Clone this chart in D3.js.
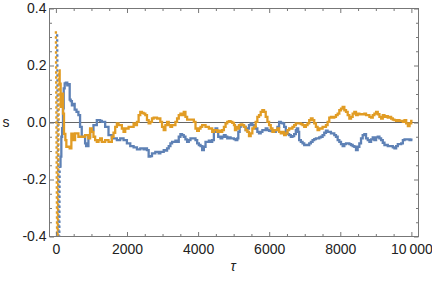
<!DOCTYPE html>
<html>
<head>
<meta charset="utf-8">
<script src="https://cdn.jsdelivr.net/npm/d3@7"></script>
<style>
  body { margin: 0; background: #fff; }
  svg { display: block; font-family: "Liberation Sans", Arial, sans-serif; }
  .tick text { font-size: 14px; fill: #222; }
  .tick line { stroke: #777; }
  .axisLb { font-size: 14px; fill: #222; }
</style>
</head>
<body>
<div id="main"></div>
<script>
var ctx = { w: 432, h: 282, left: 49.5, right: 418.5, top: 8.5, bottom: 236.5 };

// tick values
var xMajor = [0, 2000, 4000, 6000, 8000, 10000];
var xMinor = [500, 1000, 1500, 2500, 3000, 3500, 4500, 5000, 5500, 6500, 7000, 7500, 8500, 9000, 9500];
var yMajor = [-0.4, -0.2, 0, 0.2, 0.4];
var yMinor = [-0.35, -0.3, -0.25, -0.15, -0.1, -0.05, 0.05, 0.1, 0.15, 0.25, 0.3, 0.35];

// first steps (steep, drawn dotted) [tau, s]
var blueHead = [[35, 0.31], [75, -0.45], [95, -0.45], [106, -0.155]];
var orangeHead = [[0, 0.32], [35, -0.45], [50, -0.45], [87, 0.183]];

// series 1 (blue) [tau, s]
var blueTrace = [
  [106,-0.155],[130,-0.12],[153,-0.05],[175,-0.02],[200,0.05],[220,0.12],[247,0.137],[280,0.14],
  [320,0.13],[359,0.135],[388,0.08],[416,0.075],[450,0.06],[482,0.065],[528,0.045],[580,0.037],
  [633,0.026],[680,-0.015],[727,-0.05],[821,-0.073],[850,-0.083],[915,-0.05],[962,-0.027],
  [1057,-0.009],[1151,0.008],[1245,0.006],[1292,0.002],[1386,-0.015],[1480,-0.044],[1574,-0.056],
  [1715,-0.062],[1809,-0.056],[1903,-0.062],[1997,-0.073],[2092,-0.083],[2186,-0.087],[2280,-0.094],
  [2374,-0.091],[2468,-0.094],[2515,-0.091],[2562,-0.097],[2609,-0.12],[2656,-0.118],[2703,-0.108],
  [2797,-0.103],[2891,-0.108],[2938,-0.103],[2986,-0.103],[3033,-0.097],[3080,-0.099],[3127,-0.091],
  [3174,-0.083],[3221,-0.073],[3268,-0.068],[3362,-0.064],[3409,-0.068],[3456,-0.05],[3503,-0.041],
  [3550,-0.044],[3597,-0.05],[3644,-0.059],[3691,-0.068],[3738,-0.062],[3785,-0.056],[3832,-0.056],
  [3927,-0.062],[3974,-0.073],[4021,-0.079],[4068,-0.083],[4115,-0.097],[4162,-0.085],[4209,-0.068],
  [4303,-0.064],[4350,-0.068],[4397,-0.062],[4444,-0.033],[4491,-0.021],[4538,-0.033],[4566,-0.05],
  [4632,-0.056],[4679,-0.05],[4726,-0.044],[4773,-0.05],[4820,-0.056],[4867,-0.052],[4914,-0.056],
  [4962,-0.056],[5009,-0.058],[5056,-0.062],[5103,-0.056],[5131,-0.033],[5169,-0.015],[5197,-0.009],
  [5244,-0.009],[5291,-0.015],[5338,-0.027],[5385,-0.021],[5432,-0.009],[5479,-0.003],[5526,-0.009],
  [5573,-0.015],[5620,-0.021],[5667,-0.033],[5714,-0.038],[5761,-0.033],[5808,-0.027],[5855,-0.027],
  [5902,-0.021],[5950,-0.027],[5997,-0.029],[6044,-0.03],[6091,-0.027],[6138,-0.033],[6185,-0.027],
  [6232,-0.015],[6279,0.002],[6326,-0.001],[6373,-0.003],[6420,-0.015],[6467,-0.036],[6514,-0.041],
  [6561,-0.044],[6608,-0.05],[6655,-0.048],[6702,-0.041],[6749,-0.027],[6778,-0.021],[6815,-0.033],
  [6843,-0.062],[6890,-0.068],[6938,-0.073],[6985,-0.079],[7032,-0.079],[7079,-0.079],[7126,-0.073],
  [7173,-0.068],[7220,-0.062],[7267,-0.058],[7314,-0.056],[7361,-0.056],[7408,-0.052],[7455,-0.05],
  [7502,-0.044],[7549,-0.036],[7596,-0.029],[7643,-0.033],[7690,-0.033],[7737,-0.038],[7784,-0.038],
  [7831,-0.044],[7878,-0.05],[7926,-0.062],[7973,-0.068],[8020,-0.076],[8067,-0.083],[8114,-0.076],
  [8161,-0.073],[8255,-0.076],[8301,-0.079],[8348,-0.083],[8395,-0.085],[8442,-0.097],[8489,-0.085],
  [8536,-0.073],[8583,-0.056],[8630,-0.044],[8677,-0.041],[8724,-0.056],[8772,-0.062],[8819,-0.068],
  [8866,-0.059],[8913,-0.052],[8960,-0.062],[9007,-0.052],[9054,-0.05],[9101,-0.056],[9148,-0.062],
  [9195,-0.071],[9242,-0.079],[9336,-0.083],[9430,-0.083],[9477,-0.087],[9524,-0.091],[9571,-0.083],
  [9618,-0.076],[9713,-0.073],[9760,-0.062],[9807,-0.059],[9901,-0.059],[9948,-0.062],[9995,-0.059],
  [10000,-0.056]
];

// series 2 (orange) [tau, s]
var orangeTrace = [
  [87,0.183],[106,0.136],[134,0.055],[172,0.101],[200,0.031],[228,-0.04],[266,-0.062],[294,-0.085],
  [341,-0.085],[388,-0.091],[435,-0.039],[482,-0.062],[539,-0.038],[633,-0.05],[727,-0.05],[821,-0.044],
  [915,-0.056],[962,-0.021],[1010,-0.033],[1057,-0.05],[1104,-0.062],[1151,-0.068],[1198,-0.062],
  [1245,-0.056],[1292,-0.068],[1386,-0.062],[1480,-0.068],[1574,-0.05],[1621,-0.036],[1668,-0.015],
  [1715,-0.003],[1762,-0.009],[1856,-0.021],[1903,-0.033],[1950,-0.021],[2045,-0.015],[2139,-0.015],
  [2186,-0.003],[2233,-0.009],[2280,0.002],[2327,0.026],[2374,0.037],[2421,0.034],[2468,0.031],
  [2515,0.026],[2562,0.008],[2609,-0.003],[2656,0.002],[2703,0.014],[2750,0.017],[2844,0.014],
  [2938,0.002],[2986,-0.015],[3033,-0.027],[3080,-0.009],[3127,0.002],[3174,-0.009],[3221,-0.015],
  [3268,-0.009],[3362,0.002],[3409,0.014],[3456,0.026],[3503,0.031],[3550,0.026],[3597,0.037],
  [3644,0.02],[3691,0.01],[3785,0.01],[3880,0.002],[3927,-0.021],[3974,-0.029],[4021,-0.021],
  [4068,-0.015],[4115,-0.009],[4209,-0.015],[4303,-0.021],[4350,-0.021],[4397,-0.033],[4444,-0.027],
  [4491,-0.027],[4538,-0.033],[4585,-0.029],[4632,-0.033],[4679,-0.027],[4726,-0.015],[4773,-0.003],
  [4820,0.002],[4867,0.005],[4914,0.002],[4962,-0.001],[5009,-0.009],[5037,-0.027],[5075,-0.015],
  [5103,-0.021],[5150,-0.009],[5197,-0.007],[5244,-0.009],[5291,-0.015],[5338,-0.027],[5385,-0.033],
  [5432,-0.048],[5479,-0.038],[5526,-0.021],[5573,-0.015],[5620,0.002],[5667,0.02],[5714,0.026],
  [5761,0.037],[5808,0.043],[5855,0.037],[5902,0.02],[5950,0.002],[5997,-0.009],[6044,-0.021],
  [6091,-0.033],[6138,-0.027],[6185,-0.027],[6232,-0.021],[6279,-0.033],[6326,-0.038],[6373,-0.033],
  [6420,-0.044],[6467,-0.038],[6514,-0.027],[6561,-0.021],[6608,-0.021],[6655,-0.015],[6702,-0.009],
  [6749,-0.003],[6796,-0.003],[6843,-0.003],[6890,-0.006],[6938,-0.009],[6985,-0.015],[7032,-0.009],
  [7079,-0.003],[7126,0.008],[7173,0.014],[7220,0.008],[7267,-0.003],[7314,-0.015],[7361,-0.027],
  [7408,-0.021],[7455,-0.021],[7502,-0.015],[7549,-0.015],[7596,-0.009],[7643,0.002],[7690,0.017],
  [7737,0.02],[7784,0.017],[7831,0.02],[7878,0.026],[7926,0.031],[7973,0.043],[8020,0.049],
  [8067,0.055],[8114,0.043],[8161,0.037],[8208,0.026],[8255,0.014],[8301,0.02],[8348,0.031],
  [8395,0.037],[8442,0.026],[8489,0.031],[8536,0.029],[8630,0.029],[8677,0.031],[8724,0.026],
  [8772,0.026],[8819,0.02],[8866,0.017],[8913,0.026],[8960,0.031],[9007,0.037],[9054,0.029],
  [9101,0.02],[9148,0.014],[9195,0.026],[9242,0.02],[9289,0.022],[9336,0.017],[9383,0.02],
  [9430,0.014],[9477,0.01],[9524,0.008],[9571,0.006],[9618,0.008],[9665,0.006],[9713,0.006],
  [9760,0.002],[9807,0.008],[9854,-0.003],[9901,-0.013],[9948,-0.003],[9995,0.006],[10000,0.01]
];

var BLUE = "#5E81B5", ORANGE = "#E19C24";

var createViz = function(){
    var svgEl = d3.select("#main").append("svg")
        .attr("width", ctx.w).attr("height", ctx.h);

    ctx.xScale = d3.scaleLinear().domain([-180, 10200]).range([ctx.left, ctx.right]);
    ctx.yScale = d3.scaleLinear().domain([-0.4, 0.4]).range([ctx.bottom, ctx.top]);

    svgEl.append("clipPath").attr("id", "plotClip")
      .append("rect")
      .attr("x", ctx.left).attr("y", ctx.top)
      .attr("width", ctx.right - ctx.left).attr("height", ctx.bottom - ctx.top);

    // zero line
    svgEl.append("line")
      .attr("x1", ctx.left).attr("x2", ctx.right)
      .attr("y1", ctx.yScale(0)).attr("y2", ctx.yScale(0))
      .style("stroke", "#666").style("stroke-width", 1.1);

    var plotG = svgEl.append("g").attr("clip-path", "url(#plotClip)");
    var lineGen = d3.line()
        .x(function(d){ return ctx.xScale(d[0]); })
        .y(function(d){ return ctx.yScale(d[1]); });
    var stepGen = d3.line()
        .x(function(d){ return ctx.xScale(d[0]); })
        .y(function(d){ return ctx.yScale(d[1]); })
        .curve(d3.curveStepAfter);

    [[blueHead, blueTrace, BLUE], [orangeHead, orangeTrace, ORANGE]].forEach(function(s){
        plotG.append("path").attr("d", lineGen(s[0]))
          .attr("fill", "none").attr("stroke", s[2])
          .attr("stroke-width", 2.3).attr("stroke-dasharray", "2.5,2.5");
        plotG.append("path").attr("d", stepGen(s[1]))
          .attr("fill", "none").attr("stroke", s[2])
          .attr("stroke-width", 2.3).attr("stroke-linejoin", "miter");
    });

    // frame
    svgEl.append("rect")
      .attr("x", ctx.left).attr("y", ctx.top)
      .attr("width", ctx.right - ctx.left).attr("height", ctx.bottom - ctx.top)
      .attr("fill", "none").attr("stroke", "#777");

    var fmtY = function(d){ return d3.format(".1f")(d).replace("\u2212", "-"); };
    var fmtX = function(d){ return d === 10000 ? "10\u2009000" : String(d); };

    // bottom
    svgEl.append("g").attr("transform", "translate(0," + ctx.bottom + ")")
      .call(d3.axisBottom(ctx.xScale).tickValues(xMajor).tickSize(-4.5).tickPadding(7.5).tickFormat(fmtX));
    svgEl.append("g").attr("transform", "translate(0," + ctx.bottom + ")")
      .call(d3.axisBottom(ctx.xScale).tickValues(xMinor).tickSize(-2.5).tickFormat(""));
    // top
    svgEl.append("g").attr("transform", "translate(0," + ctx.top + ")")
      .call(d3.axisTop(ctx.xScale).tickValues(xMajor).tickSize(-4.5).tickFormat(""));
    svgEl.append("g").attr("transform", "translate(0," + ctx.top + ")")
      .call(d3.axisTop(ctx.xScale).tickValues(xMinor).tickSize(-2.5).tickFormat(""));
    // left
    svgEl.append("g").attr("transform", "translate(" + ctx.left + ",0)")
      .call(d3.axisLeft(ctx.yScale).tickValues(yMajor).tickSize(-4.5).tickPadding(3).tickFormat(fmtY));
    svgEl.append("g").attr("transform", "translate(" + ctx.left + ",0)")
      .call(d3.axisLeft(ctx.yScale).tickValues(yMinor).tickSize(-2.5).tickFormat(""));
    // right
    svgEl.append("g").attr("transform", "translate(" + ctx.right + ",0)")
      .call(d3.axisRight(ctx.yScale).tickValues(yMajor).tickSize(-4.5).tickFormat(""));
    svgEl.append("g").attr("transform", "translate(" + ctx.right + ",0)")
      .call(d3.axisRight(ctx.yScale).tickValues(yMinor).tickSize(-2.5).tickFormat(""));

    svgEl.selectAll(".domain").remove();
    svgEl.selectAll(".tick text").attr("font-family", null).attr("font-size", null);

    // axis labels
    svgEl.append("text").classed("axisLb", true)
      .attr("x", 6).attr("y", ctx.yScale(0) + 4)
      .attr("text-anchor", "middle").text("s");
    svgEl.append("text").classed("axisLb", true)
      .attr("x", 233).attr("y", 271)
      .attr("text-anchor", "middle").style("font-style", "italic").text("\u03c4");
};

createViz();
</script>
</body>
</html>
